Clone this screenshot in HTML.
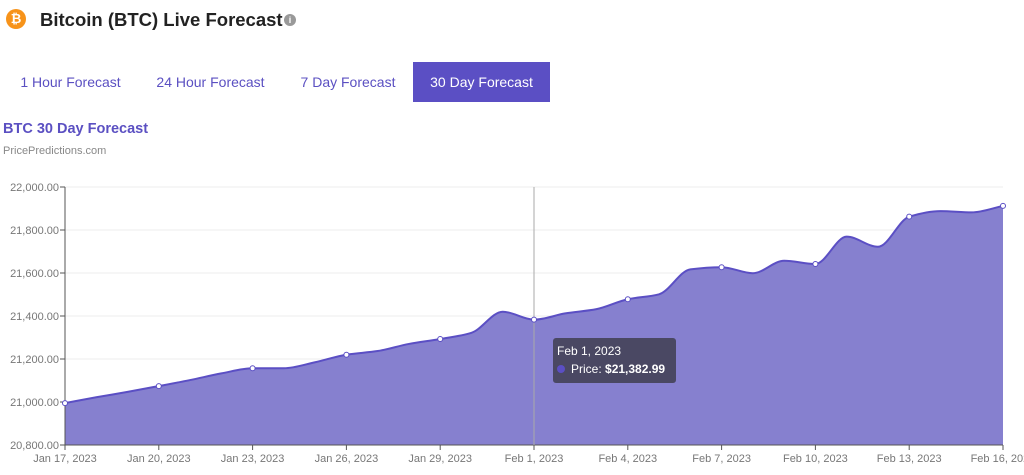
<!DOCTYPE html>
<html><head><meta charset="utf-8"><style>
body{margin:0;width:1024px;height:475px;background:#fff;font-family:"Liberation Sans",sans-serif;position:relative;overflow:hidden}
.abs{position:absolute}
.tab{position:absolute;top:62px;height:40px;line-height:40px;font-size:14px;color:#5b50c2;text-align:center}
</style></head><body>
<div class="abs" style="left:6px;top:9px;width:20px;height:20px;border-radius:50%;background:#f7931a;color:#fff;font-size:13px;font-weight:bold;text-align:center;line-height:20px">₿</div>
<div class="abs" style="left:40px;top:9px;font-size:18.5px;font-weight:bold;color:#222">Bitcoin (BTC) Live Forecast</div>
<div class="abs" style="left:284px;top:14px;width:12px;height:12px;border-radius:50%;background:#999;color:#fff;font-size:9px;text-align:center;line-height:12px;font-weight:bold">i</div>
<div class="tab" style="left:8px;width:125px">1 Hour Forecast</div>
<div class="tab" style="left:143px;width:135px">24 Hour Forecast</div>
<div class="tab" style="left:288px;width:120px">7 Day Forecast</div>
<div class="tab" style="left:413px;width:137px;background:#5b4fc4;color:#fff">30 Day Forecast</div>
<div class="abs" style="left:3px;top:121px;font-size:14.5px;font-weight:bold;color:#5b50c2">BTC 30 Day Forecast</div>
<div class="abs" style="left:3px;top:145px;font-size:11px;color:#888">PricePredictions.com</div>
<svg class="abs" style="left:0;top:0" width="1024" height="475">
<g id="grid"></g><path id="area" fill="#8680cf"></path>
<path id="line" fill="none" stroke="#5b4fc4" stroke-width="2"></path>
<g id="axes"></g><g id="marks"></g>
</svg>
<div class="abs" style="left:553px;top:338px;width:123px;height:45px;background:#4a4863;border-radius:3px;color:#fff;font-size:12px">
<div style="position:absolute;left:4px;top:6px">Feb 1, 2023</div>
<div style="position:absolute;left:4px;top:24px"><span style="display:inline-block;width:8px;height:8px;border-radius:50%;background:#5b4fc4;margin-right:6px"></span>Price: <b>$21,382.99</b></div>
</div>
<script>
const values=[20995,21022,21047,21074,21102,21133,21157,21157,21185,21220,21237,21270,21293,21322,21420,21383,21412,21432,21478,21501,21617,21627,21599,21657,21642,21769,21722,21862,21888,21882,21912];
const yTicks=[20800,21000,21200,21400,21600,21800,22000];
const xLabels=["Jan 17, 2023","Jan 20, 2023","Jan 23, 2023","Jan 26, 2023","Jan 29, 2023","Feb 1, 2023","Feb 4, 2023","Feb 7, 2023","Feb 10, 2023","Feb 13, 2023","Feb 16, 2023"];
const X0=65,X1=1003,Y0=445,Y1=187,NS="http://www.w3.org/2000/svg";
const xs=i=>X0+(X1-X0)*i/(values.length-1);
const ys=v=>Y0-(v-20800)/(22000-20800)*(Y0-Y1);
function mk(t,a,p){const e=document.createElementNS(NS,t);for(const k in a)e.setAttribute(k,a[k]);p.appendChild(e);return e;}
const grid=document.getElementById('grid'),axes=document.getElementById('axes'),marks=document.getElementById('marks');
yTicks.forEach(v=>{const y=ys(v);
const l=mk('line',{x1:X0,x2:X1,y1:y,y2:y,stroke:'#eee'},grid);


mk('line',{x1:X0-5,x2:X0,y1:y,y2:y,stroke:'#555'},axes);
const t=mk('text',{x:X0-6,y:y+4,'text-anchor':'end','font-size':11,fill:'#777','font-family':'Liberation Sans'},axes);
t.textContent=v.toLocaleString('en-US',{minimumFractionDigits:2});

});
xLabels.forEach((s,k)=>{const x=xs(k*3);
mk('line',{x1:x,x2:x,y1:Y0,y2:Y0+5,stroke:'#555'},axes);
const t=mk('text',{x:x,y:Y0+17,'text-anchor':'middle','font-size':11,fill:'#777','font-family':'Liberation Sans'},axes);
t.textContent=s;

});
mk('line',{x1:X0,x2:X0,y1:Y1,y2:Y0,stroke:'#555'},axes);
mk('line',{x1:X0,x2:X1,y1:Y0,y2:Y0,stroke:'#555'},axes);
mk('line',{x1:xs(15),x2:xs(15),y1:Y1,y2:Y0,stroke:'#aaa'},axes);
const n=values.length,P=values.map((v,i)=>[xs(i),ys(v)]);
const d=[];for(let i=0;i<n-1;i++)d.push((P[i+1][1]-P[i][1])/(P[i+1][0]-P[i][0]));
const m=[d[0]];for(let i=1;i<n-1;i++){m.push(d[i-1]*d[i]<=0?0:2/(1/d[i-1]+1/d[i]));}m.push(d[n-2]);
let p=`M${P[0][0]},${P[0][1]}`;
for(let i=0;i<n-1;i++){const h=(P[i+1][0]-P[i][0])/3;p+=` C${P[i][0]+h},${P[i][1]+m[i]*h} ${P[i+1][0]-h},${P[i+1][1]-m[i+1]*h} ${P[i+1][0]},${P[i+1][1]}`;}
document.getElementById('line').setAttribute('d',p);
document.getElementById('area').setAttribute('d',p+` L${X1},${Y0} L${X0},${Y0} Z`);
for(let i=0;i<n;i+=3){const c=mk('circle',{cx:P[i][0],cy:P[i][1],r:2.5,fill:'#fff',stroke:'#5b4fc4','stroke-width':1},marks);

}
</script>
</body></html>
